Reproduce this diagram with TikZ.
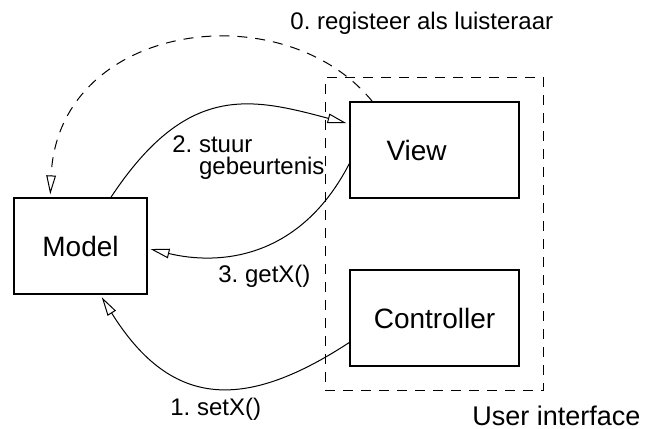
\documentclass[tikz,border=0pt]{standalone}
\usepackage{fontspec}
\setmainfont{Liberation Sans}
\usetikzlibrary{arrows.meta,fit}
\frenchspacing

\begin{document}
\begin{tikzpicture}[
    x=0.5pt, y=-0.5pt,
    box/.style={rectangle, draw, line width=0.6pt, minimum width=84.5pt, minimum height=48pt, align=center, font=\fontsize{14}{16}\selectfont},
    lbl/.style={inner sep=0pt, font=\fontsize{12}{11}\selectfont},
    arrow/.style={-{Triangle[open, length=9.5pt, width=4.8pt]}, line width=0.5pt, shorten >=1.5pt},
    frame/.style={draw, dash pattern=on 5pt off 4pt, line width=0.5pt}
]
\useasboundingbox (0,0) rectangle (651,428);

\node[box, minimum width=66.5pt] (model) at (80.5,246) {Model};

\node[box, text width=48pt, align=left, inner xsep=18.25pt] (view) at (434.5,150) {View};

\node[box] (controller) at (434.5,318) {Controller};

% dashed frame round the user interface part
\node[frame, fit=(view)(controller), inner sep=12pt] (ui) {};
\node[lbl, anchor=base west, font=\fontsize{13.5}{16}\selectfont] (uilbl) at (472,425) {User interface};

% message labels
\node[lbl, anchor=base west] (reglbl) at (290,29) {0. registeer als luisteraar};
\node[lbl, anchor=base west, align=left] (stuurlbl) at (172,174) {2. stuur\\\phantom{2. }gebeurtenis};
\node[lbl, anchor=base west] (getlbl) at (218,282) {3. getX()};
\node[lbl, anchor=base west] (setlbl) at (170,415) {1. setX()};

% curved message arrows
\draw[arrow, dash pattern=on 5pt off 4pt] (view.142) .. controls +(-90,-110) and +(8,-175) .. (model.122);
\draw[arrow] (model.58) .. controls +(76,-115) and +(-99,-26.5) .. (view.163);
\draw[arrow] (view.189) .. controls +(-50,97) and +(70,17) .. (model.-2);
\draw[arrow] (controller.196) .. controls +(-109,71.5) and +(69,110.5) .. (model.292);

\end{tikzpicture}
\end{document}
